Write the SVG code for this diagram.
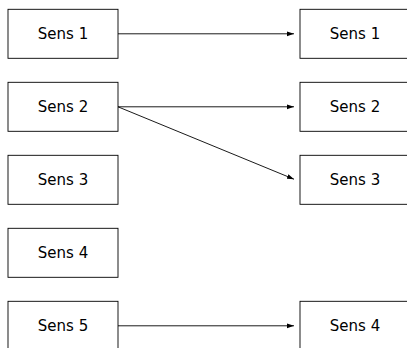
<svg xmlns="http://www.w3.org/2000/svg" width="407" height="348" viewBox="0 0 407 348">
<style>
.box{fill:#fff;stroke:#000;stroke-width:0.9}
.lbl{font-family:"DejaVu Sans",sans-serif;font-size:15px;fill:#000;text-anchor:middle;dominant-baseline:central}
.edge{stroke:#000;stroke-width:0.9;fill:none;marker-end:url(#ah)}
</style>
<defs>
<marker id="ah" markerWidth="8" markerHeight="6" refX="7" refY="3" orient="auto" markerUnits="userSpaceOnUse">
<path d="M0,0.6 L7,3 L0,5.4 Z" fill="#000"/>
</marker>
</defs>
<g id="L1"><rect class="box" x="8" y="9.3" width="110" height="49"/><text class="lbl" x="63" y="34.3">Sens 1</text></g>
<g id="L2"><rect class="box" x="8" y="82.3" width="110" height="49"/><text class="lbl" x="63" y="107.3">Sens 2</text></g>
<g id="L3"><rect class="box" x="8" y="155.3" width="110" height="49"/><text class="lbl" x="63" y="180.3">Sens 3</text></g>
<g id="L4"><rect class="box" x="8" y="228.3" width="110" height="49"/><text class="lbl" x="63" y="253.3">Sens 4</text></g>
<g id="L5"><rect class="box" x="8" y="301.3" width="110" height="49"/><text class="lbl" x="63" y="326.3">Sens 5</text></g>
<g id="R1"><rect class="box" x="300" y="9.3" width="110" height="49"/><text class="lbl" x="355" y="34.3">Sens 1</text></g>
<g id="R2"><rect class="box" x="300" y="82.3" width="110" height="49"/><text class="lbl" x="355" y="107.3">Sens 2</text></g>
<g id="R3"><rect class="box" x="300" y="155.3" width="110" height="49"/><text class="lbl" x="355" y="180.3">Sens 3</text></g>
<g id="R4"><rect class="box" x="300" y="301.3" width="110" height="49"/><text class="lbl" x="355" y="326.3">Sens 4</text></g>
<g id="connectors">
<line class="edge" x1="118" y1="33.8" x2="294" y2="33.8"/>
<line class="edge" x1="118" y1="106.8" x2="294" y2="106.8"/>
<line class="edge" x1="118" y1="106.8" x2="294" y2="179.2"/>
<line class="edge" x1="118" y1="325.8" x2="294" y2="325.8"/>
</g>
</svg>
